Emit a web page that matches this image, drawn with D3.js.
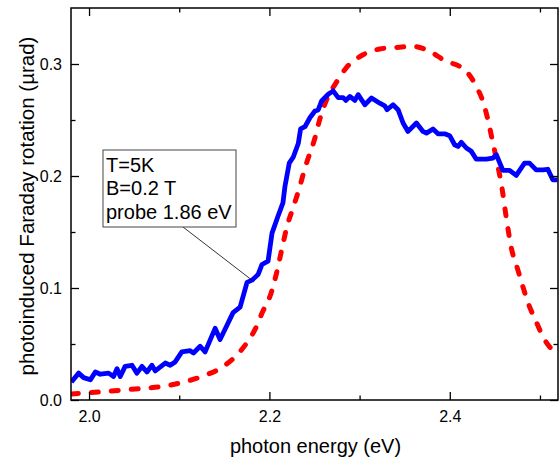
<!DOCTYPE html>
<html>
<head>
<meta charset="utf-8">
<script src="https://cdn.jsdelivr.net/npm/d3@7"></script>
<style>
  body { margin: 0; background: #fff; }
  text { font-family: "Liberation Sans", Arial, sans-serif; fill: #000; }
</style>
</head>
<body>
<svg id="chart" width="559" height="459"></svg>
<script>
//// DATA

// photon energy (eV) and faraday rotation for the measured (blue) trace
const blueEnergy = [1.9804, 1.9885, 1.994, 2.0014, 2.007, 2.0125, 2.0217, 2.0272, 2.031, 2.0346,
  2.040, 2.0476, 2.0531, 2.0587, 2.0642, 2.0697, 2.0734, 2.0845, 2.090, 2.0955,
  2.1029, 2.1121, 2.1158, 2.1232, 2.1287, 2.1398, 2.1453, 2.1531, 2.1597, 2.1675,
  2.1752, 2.1807, 2.1874, 2.1918, 2.1985, 2.2029, 2.2095, 2.215, 2.2173, 2.222,
  2.2265, 2.232, 2.2346, 2.2394, 2.2449, 2.2505, 2.2541, 2.2579, 2.2652, 2.2707,
  2.2763, 2.2818, 2.2848, 2.2892, 2.2947, 2.2984, 2.3058, 2.3132, 2.3224, 2.3279,
  2.3305, 2.3371, 2.3427, 2.3482, 2.3537, 2.363, 2.3703, 2.3741, 2.3814, 2.3869,
  2.3944, 2.3999, 2.4054, 2.4091, 2.4128, 2.4184, 2.4239, 2.4294, 2.4405, 2.4478,
  2.4516, 2.4589, 2.4663, 2.4737, 2.4829, 2.4884, 2.4958, 2.5032, 2.5087, 2.5142, 2.5194]
const blueRotation = [0.016, 0.024, 0.020, 0.018, 0.025, 0.023, 0.024, 0.021, 0.028, 0.021,
  0.030, 0.031, 0.024, 0.030, 0.025, 0.031, 0.026, 0.033, 0.031, 0.034,
  0.043, 0.044, 0.042, 0.048, 0.043, 0.064, 0.054, 0.067, 0.078, 0.083,
  0.105, 0.107, 0.112, 0.121, 0.124, 0.149, 0.164, 0.176, 0.191, 0.2115,
  0.217, 0.229, 0.242, 0.244, 0.252, 0.258, 0.259, 0.267, 0.273, 0.276,
  0.270, 0.270, 0.2675, 0.271, 0.2675, 0.2726, 0.2636, 0.2696, 0.265, 0.2627,
  0.2592, 0.2636, 0.2592, 0.2473, 0.2398, 0.2473, 0.2398, 0.2383, 0.2419, 0.2377,
  0.2377, 0.236, 0.2279, 0.2264, 0.230, 0.225, 0.222, 0.215, 0.215, 0.216,
  0.219, 0.205, 0.205, 0.2005, 0.2115, 0.2115, 0.2055, 0.2055, 0.206, 0.1966, 0.1966]

// smooth (red, dashed) trace
const redEnergy = [1.9804, 2.0476, 2.0845, 2.1066, 2.1251, 2.149, 2.1638, 2.1766, 2.1841, 2.1915,
  2.2025, 2.2081, 2.2136, 2.2192, 2.2264, 2.2331, 2.2394, 2.2505, 2.256, 2.2634,
  2.2745, 2.2856, 2.3039, 2.3224, 2.3409, 2.3593, 2.3778, 2.3962, 2.411, 2.4184,
  2.4294, 2.4367, 2.4423, 2.4471, 2.4527, 2.4582, 2.4626, 2.4682, 2.4755, 2.481,
  2.4884, 2.4958, 2.5032, 2.5106, 2.5194]
const redRotation = [0.0054, 0.0096, 0.0125, 0.0164, 0.021, 0.030, 0.040, 0.053, 0.063, 0.077,
  0.097, 0.114, 0.134, 0.154, 0.172, 0.189, 0.207, 0.234, 0.251, 0.268,
  0.284, 0.297, 0.3083, 0.3134, 0.3148, 0.3157, 0.3113, 0.3023, 0.2979, 0.2934,
  0.280, 0.2666, 0.2502, 0.2323, 0.2115, 0.1877, 0.163, 0.136, 0.1162, 0.1013,
  0.0834, 0.070, 0.0566, 0.0476, 0.0402]

const xMajorTicks = [2.0, 2.2, 2.4]
const xMinorTicks = [2.1, 2.3, 2.5]
const yMajorTicks = [0.0, 0.1, 0.2, 0.3]
const yMinorTicks = [0.05, 0.15, 0.25]

const noteLines = ["T=5K", "B=0.2 T", "probe 1.86 eV"]
const xTitle = "photon energy (eV)"
const yTitle = "photoinduced Faraday rotation (\u00b5rad)"

//// LAYOUT

// plot frame edges (window.top is taken, so prefix them)
const plotL = 71, plotR = 558, plotT = 8, plotB = 400

const x = d3.scaleLinear().domain([1.98, 2.52]).range([plotL, plotR])
const y = d3.scaleLinear().domain([0, 0.35]).range([plotB, plotT])

const svg = d3.select("#chart")

svg.append("defs").append("clipPath")
  .attr("id", "plot-clip")
  .append("rect")
  .attr("x", plotL).attr("y", plotT)
  .attr("width", plotR - plotL).attr("height", plotB - plotT)

// pair the arrays up for d3.line
const blue = blueEnergy.map((e, i) => [e, blueRotation[i]])
const red = redEnergy.map((e, i) => [e, redRotation[i]])

const line = d3.line()
  .x(d => x(d[0]))
  .y(d => y(d[1]))

const plot = svg.append("g").attr("clip-path", "url(#plot-clip)")

plot.append("path")
  .datum(red)
  .attr("d", line.curve(d3.curveMonotoneX))
  .attr("fill", "none")
  .attr("stroke", "#ff0000")
  .attr("stroke-width", 5)
  .attr("stroke-linecap", "round")
  .attr("stroke-dasharray", "7,13")

plot.append("path")
  .datum(blue)
  .attr("d", line.curve(d3.curveLinear))
  .attr("fill", "none")
  .attr("stroke", "#0000ff")
  .attr("stroke-width", 4.8)
  .attr("stroke-linejoin", "round")

//// AXES

// ticks point inward on every side, labels only bottom + left
function addAxis(axis, transform, values, size, labels, pad) {
  const g = svg.append("g")
    .attr("transform", transform)
    .call(axis.tickValues(values).tickSize(-size).tickSizeOuter(0).tickPadding(pad)
      .tickFormat(labels ? d3.format(".1f") : ""))
  g.select(".domain").remove()
  g.selectAll(".tick line").attr("stroke", "#000").attr("stroke-width", 1.3)
  g.selectAll("text")
    .style("font-family", '"Liberation Sans", Arial, sans-serif')
    .style("font-size", "16px")
    .attr("fill", "#000")
  return g
}

addAxis(d3.axisBottom(x), `translate(0,${plotB})`, xMajorTicks, 8, true, 10.5)
addAxis(d3.axisBottom(x), `translate(0,${plotB})`, xMinorTicks, 4.5, false, 0)
addAxis(d3.axisTop(x), `translate(0,${plotT})`, xMajorTicks, 8, false, 0)
addAxis(d3.axisTop(x), `translate(0,${plotT})`, xMinorTicks, 4.5, false, 0)
addAxis(d3.axisLeft(y), `translate(${plotL},0)`, yMajorTicks, 8, true, 9)
addAxis(d3.axisLeft(y), `translate(${plotL},0)`, yMinorTicks, 4.5, false, 0)
addAxis(d3.axisRight(y), `translate(${plotR},0)`, yMajorTicks, 8, false, 0)
addAxis(d3.axisRight(y), `translate(${plotR},0)`, yMinorTicks, 4.5, false, 0)

// frame
svg.append("rect")
  .attr("x", plotL).attr("y", plotT)
  .attr("width", plotR - plotL).attr("height", plotB - plotT)
  .attr("fill", "none")
  .attr("stroke", "#000")
  .attr("stroke-width", 1.5)

svg.append("text")
  .attr("x", (plotL + plotR) / 2 + 1)
  .attr("y", 453)
  .attr("text-anchor", "middle")
  .style("font-size", "20px")
  .text(xTitle)

svg.append("text")
  .attr("transform", `translate(34,${(plotT + plotB) / 2 + 2}) rotate(-90)`)
  .attr("text-anchor", "middle")
  .style("font-size", "20.5px")
  .text(yTitle)

//// ANNOTATION

// leader line from the note box to the blue trace
svg.append("line")
  .attr("x1", 183).attr("y1", 227)
  .attr("x2", x(2.1807)).attr("y2", y(0.107))
  .attr("stroke", "#000")
  .attr("stroke-width", 0.8)

svg.append("rect")
  .attr("x", 103).attr("y", 150)
  .attr("width", 133).attr("height", 77)
  .attr("fill", "#fff")
  .attr("stroke", "#444")
  .attr("stroke-width", 1)

svg.selectAll(".note")
  .data(noteLines)
  .join("text")
  .attr("class", "note")
  .attr("x", 106)
  .attr("y", (d, i) => 172 + i * 23.3)
  .style("font-size", "20px")
  .text(d => d)
</script>
</body>
</html>
